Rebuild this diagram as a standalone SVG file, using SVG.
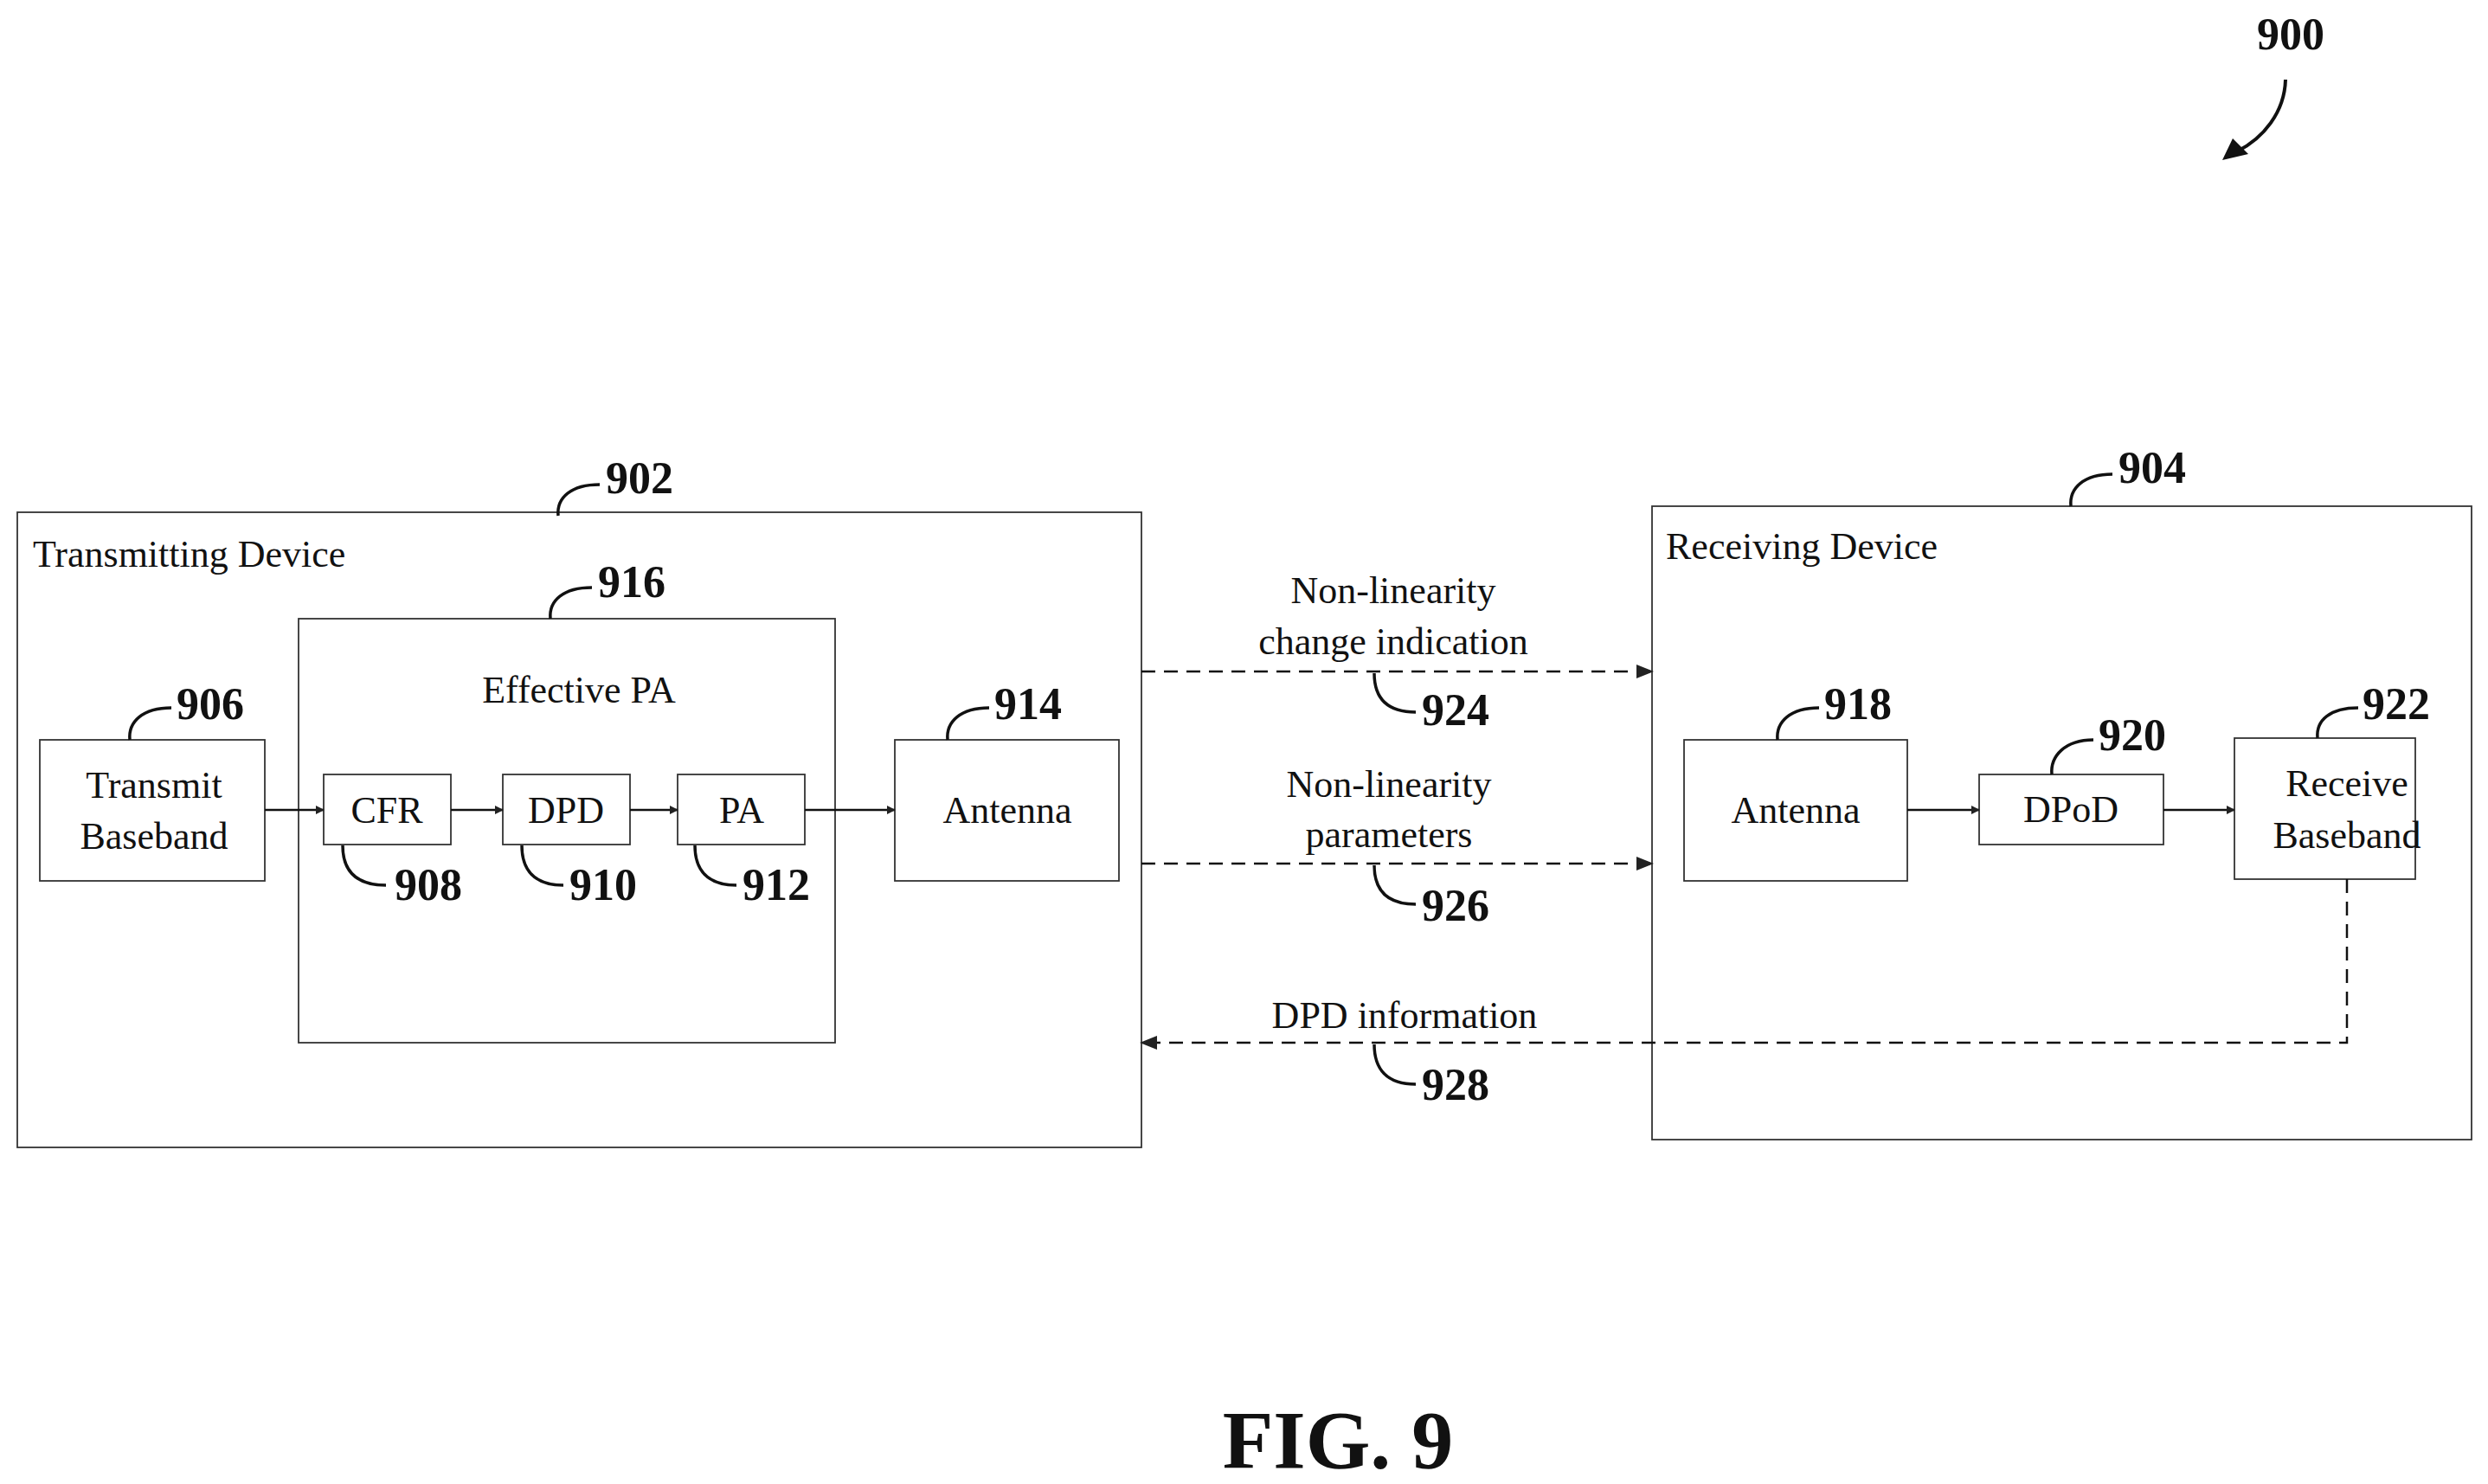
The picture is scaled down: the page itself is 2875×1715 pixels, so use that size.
<svg xmlns="http://www.w3.org/2000/svg" width="2875" height="1715" viewBox="0 0 2875 1715">
<defs>
<marker id="ah" markerWidth="10" markerHeight="10" refX="9" refY="5" orient="auto" markerUnits="userSpaceOnUse" viewBox="0 0 10 10"><path d="M0,0 L10,5 L0,10 z" fill="#222"/></marker>
<marker id="ahb" markerWidth="20" markerHeight="20" refX="18" refY="10" orient="auto" markerUnits="userSpaceOnUse" viewBox="0 0 20 20"><path d="M0,2 L20,10 L0,18 z" fill="#222"/></marker>
<style>
.b{fill:#fff;stroke:#333;stroke-width:1.8}
.t{font-family:"Liberation Serif",serif;font-size:44px;fill:#111;text-anchor:middle}
.tl{font-family:"Liberation Serif",serif;font-size:44px;fill:#111}
.n{font-family:"Liberation Serif",serif;font-size:52px;font-weight:bold;fill:#111}
.ld{fill:none;stroke:#111;stroke-width:3.5}
.c{fill:none;stroke:#111;stroke-width:2.5}
.d{fill:none;stroke:#111;stroke-width:2.5;stroke-dasharray:16 10}
</style>
</defs>
<rect width="2875" height="1715" fill="#fff"/>
<g id="tx"><rect class="b" x="20" y="592" width="1299" height="734"/><text class="tl" x="38" y="655">Transmitting Device</text></g>
<g id="rx"><rect class="b" x="1909" y="585" width="947" height="732"/><text class="tl" x="1925" y="646">Receiving Device</text></g>
<g id="epa"><rect class="b" x="345" y="715" width="620" height="490"/><text class="t" x="669" y="812">Effective PA</text></g>
<g id="tbb"><rect class="b" x="46" y="855" width="260" height="163"/><text class="t" x="178" y="922">Transmit</text><text class="t" x="178" y="981">Baseband</text></g>
<g id="cfr"><rect class="b" x="374" y="895" width="147" height="81"/><text class="t" x="447" y="951">CFR</text></g>
<g id="dpd"><rect class="b" x="581" y="895" width="147" height="81"/><text class="t" x="654" y="951">DPD</text></g>
<g id="pa"><rect class="b" x="783" y="895" width="147" height="81"/><text class="t" x="857" y="951">PA</text></g>
<g id="ant1"><rect class="b" x="1034" y="855" width="259" height="163"/><text class="t" x="1164" y="951">Antenna</text></g>
<g id="ant2"><rect class="b" x="1946" y="855" width="258" height="163"/><text class="t" x="2075" y="951">Antenna</text></g>
<g id="dpod"><rect class="b" x="2287" y="895" width="213" height="81"/><text class="t" x="2393" y="950">DPoD</text></g>
<g id="rbb"><rect class="b" x="2582" y="853" width="209" height="163"/><text class="t" x="2712" y="920">Receive</text><text class="t" x="2712" y="980">Baseband</text></g>
<g id="connectors">
<line class="c" x1="306" y1="936" x2="374" y2="936" marker-end="url(#ah)"/>
<line class="c" x1="521" y1="936" x2="581" y2="936" marker-end="url(#ah)"/>
<line class="c" x1="728" y1="936" x2="783" y2="936" marker-end="url(#ah)"/>
<line class="c" x1="930" y1="936" x2="1034" y2="936" marker-end="url(#ah)"/>
<line class="c" x1="2204" y1="936" x2="2287" y2="936" marker-end="url(#ah)"/>
<line class="c" x1="2500" y1="936" x2="2582" y2="936" marker-end="url(#ah)"/>
<line class="d" x1="1319" y1="776" x2="1909" y2="776" marker-end="url(#ahb)"/>
<line class="d" x1="1319" y1="998" x2="1909" y2="998" marker-end="url(#ahb)"/>
<polyline class="d" points="2712,1016 2712,1205 1319,1205" marker-end="url(#ahb)"/>
<text class="t" x="1610" y="697">Non-linearity</text><text class="t" x="1610" y="756">change indication</text>
<text class="t" x="1605" y="921">Non-linearity</text><text class="t" x="1605" y="979">parameters</text>
<text class="t" x="1623" y="1188">DPD information</text>
</g>
<g id="refs">
<path class="ld" d="M645,596 C643,575 660,560 693,560"/><text class="n" x="700" y="570">902</text>
<path class="ld" d="M2393,585 C2391,564 2408,548 2441,548"/><text class="n" x="2448" y="558">904</text>
<path class="ld" d="M636,715 C634,694 651,679 684,679"/><text class="n" x="691" y="690">916</text>
<path class="ld" d="M150,855 C148,834 165,818 198,818"/><text class="n" x="204" y="831">906</text>
<path class="ld" d="M1095,855 C1093,834 1110,818 1143,818"/><text class="n" x="1149" y="831">914</text>
<path class="ld" d="M2054,855 C2052,834 2069,818 2102,818"/><text class="n" x="2108" y="831">918</text>
<path class="ld" d="M2371,895 C2369,874 2386,855 2419,855"/><text class="n" x="2425" y="867">920</text>
<path class="ld" d="M2678,853 C2676,832 2693,818 2725,818"/><text class="n" x="2730" y="831">922</text>
<path class="ld" d="M396,977 C396,1005 410,1023 446,1023"/><text class="n" x="456" y="1040">908</text>
<path class="ld" d="M603,977 C603,1005 617,1023 651,1023"/><text class="n" x="658" y="1040">910</text>
<path class="ld" d="M803,977 C803,1005 817,1023 851,1023"/><text class="n" x="858" y="1040">912</text>
<path class="ld" d="M1588,778 C1588,806 1602,823 1636,823"/><text class="n" x="1643" y="838">924</text>
<path class="ld" d="M1588,1000 C1588,1028 1602,1045 1636,1045"/><text class="n" x="1643" y="1064">926</text>
<path class="ld" d="M1588,1207 C1588,1235 1602,1253 1636,1253"/><text class="n" x="1643" y="1271">928</text>
<text class="n" x="2608" y="57">900</text>
<path d="M2641,92 C2640,130 2615,160 2585,175" fill="none" stroke="#111" stroke-width="4"/>
<path d="M2568,185 L2580,160 L2598,178 z" fill="#111"/>
</g>
<text x="1546" y="1697" font-family="Liberation Serif,serif" font-size="96" font-weight="bold" text-anchor="middle" fill="#111">FIG. 9</text>
</svg>
